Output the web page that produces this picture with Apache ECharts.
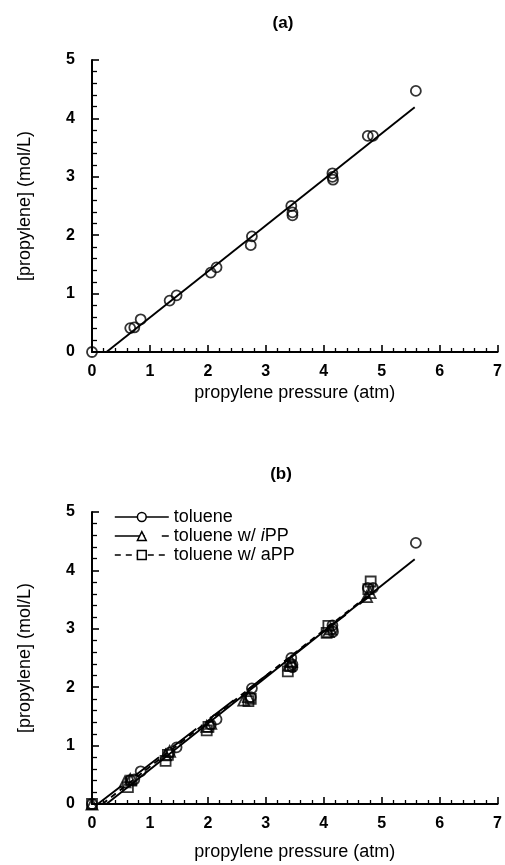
<!DOCTYPE html>
<html>
<head>
<meta charset="utf-8">
<script src="https://cdn.jsdelivr.net/npm/echarts@6/dist/echarts.min.js"></script>
<style>
html,body{margin:0;padding:0;background:#fff;}
#chart{width:505px;height:865px;}
</style>
</head>
<body>
<div id="chart"></div>
<script>
// ---- data ----
var xTicks = [0, 1, 2, 3, 4, 5, 6, 7];
var yTicks = [0, 1, 2, 3, 4, 5];

// toluene (panel a and b)
var tolueneX = [0, 0.66, 0.73, 0.84, 1.34, 1.46, 2.05, 2.15, 2.74, 2.76, 3.44, 3.46, 3.46, 4.15, 4.16, 4.15, 4.76, 4.85, 5.59];
var tolueneY = [0, 0.41, 0.42, 0.56, 0.88, 0.97, 1.36, 1.45, 1.83, 1.98, 2.50, 2.39, 2.34, 3.06, 2.95, 3.00, 3.70, 3.70, 4.47];
// toluene w/ iPP (panel b)
var iPPX = [0, 0.57, 0.66, 1.27, 1.34, 1.98, 2.05, 2.62, 2.70, 3.40, 3.44, 4.08, 4.12, 4.74, 4.80];
var iPPY = [0, 0.38, 0.42, 0.84, 0.90, 1.33, 1.38, 1.78, 1.84, 2.38, 2.44, 2.95, 3.00, 3.55, 3.62];
// toluene w/ aPP (panel b)
var aPPX = [0, 0.62, 0.68, 1.27, 1.31, 1.98, 2.01, 2.70, 2.74, 3.38, 3.42, 4.05, 4.08, 4.77, 4.81];
var aPPY = [0, 0.29, 0.40, 0.74, 0.84, 1.26, 1.32, 1.76, 1.80, 2.27, 2.36, 2.93, 3.05, 3.68, 3.81];

// linear fits (end points)
var tolFitX = [0.25, 5.57];
var tolFitY = [0, 4.19];
var iPPFitX = [0.10, 4.80];
var iPPFitY = [0, 3.56];
var aPPFitX = [0.18, 4.83];
var aPPFitY = [0, 3.62];

var seriesNames = ['toluene', 'toluene w/ iPP', 'toluene w/ aPP'];

function zip(xs, ys) { return xs.map(function (x, i) { return [x, ys[i]]; }); }

var FONT = '"Liberation Sans", Arial, Helvetica, sans-serif';

function xAxisCfg(gridIndex, nameGap) {
  return {
    type: 'value', gridIndex: gridIndex, min: xTicks[0], max: xTicks[xTicks.length - 1], interval: 1,
    axisLine: { show: true, onZero: false, lineStyle: { color: '#000', width: 2 } },
    axisTick: { show: true, inside: true, length: 7, lineStyle: { color: '#000', width: 1.6 } },
    minorTick: { show: true, splitNumber: 5, length: 4, lineStyle: { color: '#000', width: 1.3 } },
    splitLine: { show: false },
    axisLabel: { color: '#000', fontWeight: 'bold', fontSize: 16, margin: 12, fontFamily: FONT },
    name: 'propylene pressure (atm)', nameLocation: 'middle', nameGap: nameGap,
    nameTextStyle: { color: '#000', fontSize: 18, fontFamily: FONT }
  };
}
function yAxisCfg(gridIndex) {
  return {
    type: 'value', gridIndex: gridIndex, min: yTicks[0], max: yTicks[yTicks.length - 1], interval: 1,
    axisLine: { show: true, onZero: false, lineStyle: { color: '#000', width: 2 } },
    axisTick: { show: true, inside: true, length: 7, lineStyle: { color: '#000', width: 1.6 } },
    minorTick: { show: true, splitNumber: 5, length: 5, lineStyle: { color: '#000', width: 1.3 } },
    splitLine: { show: false },
    axisLabel: { color: '#000', fontWeight: 'bold', fontSize: 16, margin: 17, fontFamily: FONT },
    name: '[propylene] (mol/L)', nameLocation: 'middle', nameGap: 58,
    nameTextStyle: { color: '#000', fontSize: 18, fontFamily: FONT }
  };
}

var hollow = { color: 'rgba(255,255,255,0)', borderColor: '#000', borderWidth: 1.8 };

var option = {
  animation: false,
  backgroundColor: '#fff',
  title: [
    { text: '(a)', left: 283, top: 15, textAlign: 'center', padding: 0,
      textStyle: { fontSize: 17, fontWeight: 'bold', color: '#000', fontFamily: FONT } },
    { text: '(b)', left: 281, top: 466, textAlign: 'center', padding: 0,
      textStyle: { fontSize: 17, fontWeight: 'bold', color: '#000', fontFamily: FONT } }
  ],
  grid: [
    { left: 92, top: 60, width: 410, height: 292 },
    { left: 92, top: 512, width: 410, height: 292 }
  ],
  xAxis: [xAxisCfg(0, 32), xAxisCfg(1, 39)],
  yAxis: [yAxisCfg(0), yAxisCfg(1)],
  legend: {
    orient: 'vertical', left: 114, top: 508, padding: 0, itemGap: 1,
    itemWidth: 54, itemHeight: 11,
    textStyle: { color: '#000', fontSize: 18, fontFamily: FONT,
      rich: { it: { fontStyle: 'italic', fontSize: 18, color: '#000', fontFamily: FONT } } },
    formatter: function (name) {
      if (name === 'toluene w/ iPP') return 'toluene w/ {it|i}PP';
      return name;
    },
    data: [
      { name: seriesNames[0], itemStyle: { color: '#fff', borderColor: '#000', borderWidth: 1.5 },
        lineStyle: { color: '#000', width: 1.6, type: 'solid' } },
      { name: seriesNames[1], itemStyle: { color: '#fff', borderColor: '#000', borderWidth: 1.5 },
        lineStyle: { color: '#000', width: 1.6, type: [30, 17] } },
      { name: seriesNames[2], itemStyle: { color: '#fff', borderColor: '#000', borderWidth: 1.5 },
        lineStyle: { color: '#000', width: 1.6, type: [6, 5] } }
    ]
  },
  series: [
    // panel (b) fit lines (first so legend picks them up)
    { name: seriesNames[0], type: 'line', xAxisIndex: 1, yAxisIndex: 1, data: zip(tolFitX, tolFitY),
      symbol: 'circle', showSymbol: false, silent: true, z: 2,
      lineStyle: { color: '#000', width: 1.9, type: 'solid' }, itemStyle: hollow },
    { name: seriesNames[1], type: 'line', xAxisIndex: 1, yAxisIndex: 1, data: zip(iPPFitX, iPPFitY),
      symbol: 'triangle', showSymbol: false, silent: true, z: 2,
      lineStyle: { color: '#000', width: 1.9, type: [30, 17] }, itemStyle: hollow },
    { name: seriesNames[2], type: 'line', xAxisIndex: 1, yAxisIndex: 1, data: zip(aPPFitX, aPPFitY),
      symbol: 'rect', showSymbol: false, silent: true, z: 2,
      lineStyle: { color: '#000', width: 1.9, type: [6, 5] }, itemStyle: hollow },
    // panel (b) points
    { name: seriesNames[0], type: 'scatter', xAxisIndex: 1, yAxisIndex: 1, data: zip(tolueneX, tolueneY),
      symbol: 'circle', symbolSize: 10, itemStyle: hollow, z: 3 },
    { name: seriesNames[1], type: 'scatter', xAxisIndex: 1, yAxisIndex: 1, data: zip(iPPX, iPPY),
      symbol: 'triangle', symbolSize: 11, itemStyle: hollow, z: 3 },
    { name: seriesNames[2], type: 'scatter', xAxisIndex: 1, yAxisIndex: 1, data: zip(aPPX, aPPY),
      symbol: 'rect', symbolSize: 10, itemStyle: hollow, z: 3 },
    // panel (a)
    { name: 'toluene fit (a)', type: 'line', xAxisIndex: 0, yAxisIndex: 0, data: zip(tolFitX, tolFitY),
      symbol: 'none', silent: true, z: 2,
      lineStyle: { color: '#000', width: 1.9 } },
    { name: 'toluene (a)', type: 'scatter', xAxisIndex: 0, yAxisIndex: 0, data: zip(tolueneX, tolueneY),
      symbol: 'circle', symbolSize: 10, itemStyle: hollow, z: 3 }
  ]
};

var chart = echarts.init(document.getElementById('chart'), null, { renderer: 'canvas' });
chart.setOption(option);
</script>
</body>
</html>
